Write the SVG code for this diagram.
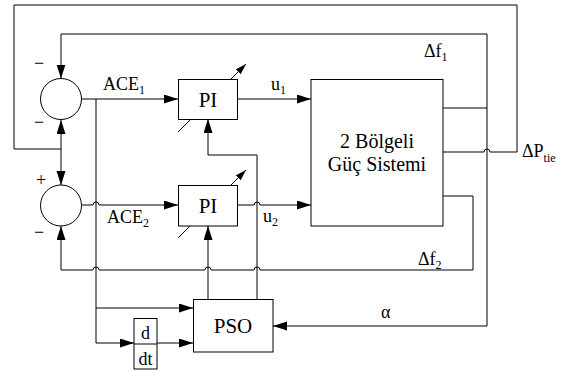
<svg xmlns="http://www.w3.org/2000/svg" width="568" height="371" viewBox="0 0 568 371" font-family="'Liberation Serif', 'DejaVu Serif', serif">
<style>
.ln{fill:none;stroke:#000;stroke-width:1}
.bx{fill:#fff;stroke:#000;stroke-width:1}
text{font-family:'Liberation Serif','DejaVu Serif',serif;fill:#000}
.big{font-size:21px}
.pl{font-size:20px}
.mid{font-size:18px}
.sub{font-size:12px}
</style>
<defs>
<marker id="ar" markerUnits="userSpaceOnUse" markerWidth="14" markerHeight="10" refX="14" refY="4.5" orient="auto">
<path d="M0,0 L14,4.5 L0,9 z" fill="#000"/>
</marker>
<marker id="as" markerUnits="userSpaceOnUse" markerWidth="11" markerHeight="8" refX="11" refY="3.5" orient="auto">
<path d="M0,0 L11,3.5 L0,7 z" fill="#000"/>
</marker>
</defs>
<g id="connectors">
<path class="ln" d="M443,152 H484 A3,3 0 0 1 490,152 H517 V5 H14 V149 H61"/>
<path class="ln" d="M61,149 V120" marker-end="url(#ar)"/>
<path class="ln" d="M61,149 V185" marker-end="url(#ar)"/>
<path class="ln" d="M443,108 H487"/>
<path class="ln" d="M487,108 V34 H61 V78.5" marker-end="url(#ar)"/>
<path class="ln" d="M487,108 V326 H273" marker-end="url(#ar)"/>
<path class="ln" d="M443,196 H473 V270 H260 A3,3 0 0 0 254,270 H211 A3,3 0 0 0 205,270 H99 A3,3 0 0 0 93,270 H61 V226" marker-end="url(#ar)"/>
<path class="ln" d="M81.5,99 H178" marker-end="url(#ar)"/>
<path class="ln" d="M81.5,205 H93 A3,3 0 0 1 99,205 H178" marker-end="url(#ar)"/>
<path class="ln" d="M237,99 H311" marker-end="url(#ar)"/>
<path class="ln" d="M237,205 H254 A3,3 0 0 1 260,205 H311" marker-end="url(#ar)"/>
<path class="ln" d="M96,99 V343 H134" marker-end="url(#ar)"/>
<path class="ln" d="M96,308 H193" marker-end="url(#ar)"/>
<path class="ln" d="M157,343 H193" marker-end="url(#ar)"/>
<path class="ln" d="M208,299 V226" marker-end="url(#ar)"/>
<path class="ln" d="M257,299 V155 H208 V119" marker-end="url(#ar)"/>
</g>
<g id="sum1">
<circle class="bx" cx="61" cy="99" r="20.5"/>
<text class="mid" x="39" y="69" text-anchor="middle">−</text>
<text class="mid" x="39" y="128" text-anchor="middle">−</text>
</g>
<g id="sum2">
<circle class="bx" cx="61" cy="205.5" r="20.5"/>
<text class="mid" x="41" y="186" text-anchor="middle">+</text>
<text class="mid" x="39" y="238" text-anchor="middle">−</text>
</g>
<g id="pi1">
<line class="ln" x1="178" y1="132" x2="246" y2="64" marker-end="url(#as)"/>
<rect class="bx" x="178.5" y="79.5" width="59" height="40"/>
<text class="big" x="208" y="107" text-anchor="middle">PI</text>
</g>
<g id="pi2">
<line class="ln" x1="178" y1="238" x2="246" y2="170" marker-end="url(#as)"/>
<rect class="bx" x="178.5" y="185.5" width="59" height="40.5"/>
<text class="big" x="208" y="213" text-anchor="middle">PI</text>
</g>
<g id="plant">
<rect class="bx" x="311" y="79.5" width="132" height="146.5"/>
<text class="pl" x="377" y="148" text-anchor="middle">2 Bölgeli</text>
<text class="pl" x="377" y="171" text-anchor="middle">Güç Sistemi</text>
</g>
<g id="pso">
<rect class="bx" x="193.5" y="299.5" width="79.5" height="52.5"/>
<text class="big" x="233" y="333" text-anchor="middle">PSO</text>
</g>
<g id="ddt">
<rect class="bx" x="134" y="318.5" width="23" height="50.5"/>
<line class="ln" x1="134" y1="344" x2="157" y2="344"/>
<text class="mid" x="145.5" y="339" text-anchor="middle">d</text>
<text class="mid" x="145.5" y="365" text-anchor="middle">dt</text>
</g>
<g id="labels">
<text class="mid" x="103" y="90">ACE<tspan class="sub" dy="4">1</tspan></text>
<text class="mid" x="107" y="223">ACE<tspan class="sub" dy="4">2</tspan></text>
<text class="mid" x="271" y="90">u<tspan class="sub" dy="4">1</tspan></text>
<text class="mid" x="263" y="222">u<tspan class="sub" dy="4">2</tspan></text>
<text class="mid" x="424" y="57">Δf<tspan class="sub" dy="4">1</tspan></text>
<text class="mid" x="418" y="265">Δf<tspan class="sub" dy="4">2</tspan></text>
<text class="mid" x="522" y="157">ΔP<tspan class="sub" dy="5">tie</tspan></text>
<text class="mid" x="381" y="318">α</text>
</g>
</svg>
